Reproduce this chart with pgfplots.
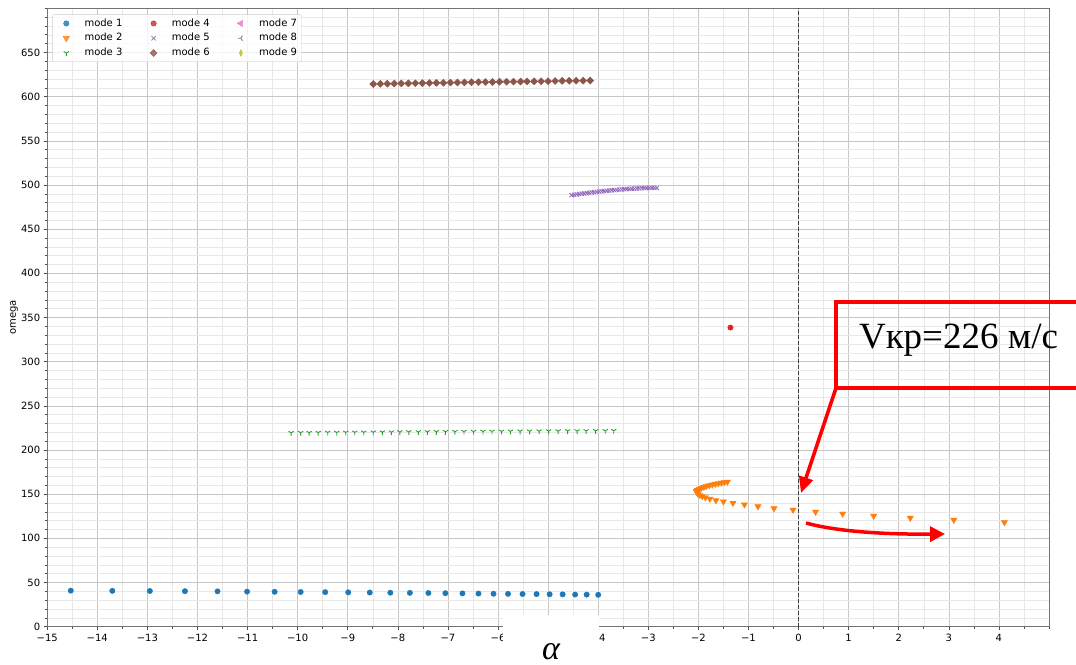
\documentclass[border=0pt]{standalone}
\usepackage{fontspec}
\setmainfont{DejaVu Sans}
\newfontfamily\tnr{Liberation Serif}
\usepackage{pgfplots}
\pgfplotsset{compat=1.18}
\usetikzlibrary{arrows.meta}

\definecolor{c0}{HTML}{1F77B4}
\definecolor{c1}{HTML}{FF7F0E}
\definecolor{c2}{HTML}{2CA02C}
\definecolor{c3}{HTML}{D62728}
\definecolor{c4}{HTML}{9467BD}
\definecolor{c5}{HTML}{8C564B}
\definecolor{c6}{HTML}{E377C2}
\definecolor{c7}{HTML}{7F7F7F}
\definecolor{c8}{HTML}{BCBD22}

\begin{document}
\begin{tikzpicture}
\useasboundingbox (0pt,0pt) rectangle (1076pt,664pt);
\begin{axis}[
  scale only axis,
  width=1001.8pt, height=618.4pt,
  at={(47.2pt,37.3pt)}, anchor=south west,
  xmin=-15, xmax=5, ymin=0, ymax=700,
  xtick={-15,...,4},
  xticklabels={−15,−14,−13,−12,−11,−10,−9,−8,−7,−6,−5,−4,−3,−2,−1,0,1,2,3,4},
  ytick={0,50,...,650},
  minor xtick={-15,-14.5,...,5},
  minor ytick={0,10,...,700},
  grid=both,
  major grid style={black!22, line width=0.6pt},
  minor grid style={black!9, line width=0.5pt},
  tick pos=left,
  tick align=outside,
  major tick length=3.5pt, minor tick length=2pt,
  tick style={black!70, line width=0.6pt},
  axis line style={black!55, line width=0.8pt},
  ticklabel style={font=\fontsize{10}{12}\selectfont},
  /pgf/number format/assume math mode=true,
  ylabel={omega},
  ylabel style={at={(axis description cs:-0.033,0.5)}, anchor=center, font=\fontsize{10}{12}\selectfont},
  legend columns=3,
  legend cell align=left,
  legend image code/.code={\path (-10pt,0pt) (10pt,0pt); \draw[#1, only marks] plot coordinates {(0pt,0pt)};},
  legend style={
    at={(axis description cs:0.005,0.99)}, anchor=north west,
    draw=black!20, rounded corners=2pt, fill=white, fill opacity=0.8, text opacity=1,
    inner xsep=3.7pt, inner ysep=3pt,
    font=\fontsize{10}{12}\selectfont,
    nodes={inner sep=1pt, text height=7.5pt, text depth=2pt},
    row sep=3.3pt,
    /tikz/every odd column/.append style={column sep=7pt},
    /tikz/every even column/.append style={column sep=20pt},
  },
]

% zero line
\addplot[black!75, line width=1pt, dash pattern=on 4pt off 2pt, forget plot] coordinates {(0,0) (0,700)};

% mode 1
\addplot[only marks, mark=*, mark size=2.7pt, color=c0, forget plot] coordinates {
(-14.53,40.8) (-13.70,40.6) (-12.95,40.4) (-12.25,40.2) (-11.60,40.0) (-11.01,39.7)
(-10.46,39.5) (-9.94,39.3) (-9.45,39.1) (-8.99,38.9) (-8.56,38.7) (-8.15,38.5)
(-7.76,38.3) (-7.39,38.1) (-7.05,37.9) (-6.71,37.7) (-6.39,37.5) (-6.09,37.3)
(-5.80,37.2) (-5.51,37.0) (-5.23,36.9) (-4.97,36.7) (-4.71,36.6) (-4.46,36.4)
(-4.23,36.3) (-4.00,36.1)};

% mode 2
\addplot[only marks, mark=triangle*, mark size=3.6pt, mark options={rotate=180}, color=c1, forget plot] coordinates {
(-1.42,164.0) (-1.48,163.5) (-1.54,162.9) (-1.60,162.3) (-1.66,161.6) (-1.72,160.8)
(-1.78,160.0) (-1.84,159.1) (-1.89,158.1) (-1.94,157.1) (-1.98,156.0) (-2.02,154.8)
(-2.04,153.4) (-2.03,152.0) (-2.01,150.5) (-1.97,149.0) (-1.92,147.6) (-1.86,146.2)
(-1.77,144.7) (-1.65,143.0) (-1.50,141.6) (-1.31,140.0) (-1.08,138.2) (-0.81,136.1)
(-0.49,133.9) (-0.11,132.2) (0.34,129.9) (0.88,127.8) (1.50,125.4) (2.23,123.1)
(3.10,120.8) (4.11,118.1)};

% mode 3
\addplot[only marks, mark=Mercedes star flipped, mark size=3pt, mark options={line width=0.9pt}, color=c2, forget plot] coordinates {
(-10.13,219.5) (-9.94,219.6) (-9.77,219.6) (-9.59,219.7) (-9.40,219.8) (-9.22,219.8)
(-9.04,219.9) (-8.86,220.0) (-8.68,220.0) (-8.49,220.1) (-8.31,220.2) (-8.13,220.2)
(-7.96,220.3) (-7.78,220.4) (-7.59,220.4) (-7.41,220.5) (-7.23,220.6) (-7.05,220.6)
(-6.86,220.7) (-6.68,220.8) (-6.49,220.8) (-6.30,220.9) (-6.12,221.0) (-5.93,221.0)
(-5.75,221.1) (-5.56,221.2) (-5.37,221.2) (-5.18,221.3) (-4.99,221.4) (-4.80,221.4)
(-4.61,221.5) (-4.42,221.5) (-4.24,221.6) (-4.05,221.7) (-3.86,221.7) (-3.69,221.8)};

% mode 4
\addplot[only marks, mark=*, mark size=2.7pt, color=c3, forget plot] coordinates {(-1.36,338.6)};

% mode 5
\addplot[only marks, mark=x, mark size=3pt, mark options={line width=0.8pt}, color=c4, forget plot] coordinates {
(-4.53,488.5) (-4.48,488.9) (-4.43,489.3) (-4.38,489.7) (-4.33,490.1) (-4.28,490.5)
(-4.23,490.8) (-4.18,491.2) (-4.13,491.5) (-4.08,491.9) (-4.03,492.2) (-3.98,492.5)
(-3.93,492.8) (-3.88,493.1) (-3.83,493.4) (-3.78,493.7) (-3.73,494.0) (-3.68,494.2)
(-3.63,494.5) (-3.58,494.7) (-3.53,495.0) (-3.48,495.2) (-3.43,495.4) (-3.38,495.6)
(-3.33,495.8) (-3.28,495.9) (-3.23,496.1) (-3.18,496.2) (-3.13,496.4) (-3.08,496.5)
(-3.03,496.6) (-2.98,496.7) (-2.93,496.7) (-2.88,496.8) (-2.83,496.8)};

% mode 6
\addplot[only marks, mark=square*, mark size=2.5pt, mark options={rotate=45}, color=c5, forget plot] coordinates {
(-8.49,614.3) (-8.35,614.5) (-8.21,614.6) (-8.07,614.8) (-7.93,614.9) (-7.79,615.0)
(-7.65,615.2) (-7.51,615.3) (-7.37,615.5) (-7.23,615.6) (-7.09,615.7) (-6.95,615.9)
(-6.81,616.0) (-6.67,616.1) (-6.53,616.3) (-6.39,616.4) (-6.25,616.5) (-6.11,616.6)
(-5.97,616.8) (-5.83,616.9) (-5.69,617.0) (-5.55,617.1) (-5.42,617.2) (-5.28,617.3)
(-5.14,617.4) (-5.00,617.5) (-4.86,617.7) (-4.72,617.8) (-4.58,617.9) (-4.44,618.0)
(-4.30,618.1) (-4.16,618.2)};

% legend, filled column by column
\addlegendimage{mark=*, mark size=2.7pt, color=c0}
\addlegendentry{mode 1}
\addlegendimage{mark=*, mark size=2.7pt, color=c3}
\addlegendentry{mode 4}
\addlegendimage{mark=triangle*, mark size=3.6pt, mark options={rotate=90}, color=c6}
\addlegendentry{mode 7}
\addlegendimage{mark=triangle*, mark size=3.6pt, mark options={rotate=180}, color=c1}
\addlegendentry{mode 2}
\addlegendimage{mark=x, mark size=3pt, mark options={line width=0.8pt}, color=c4}
\addlegendentry{mode 5}
\addlegendimage{mark=Mercedes star, mark size=3pt, mark options={rotate=90, line width=0.9pt}, color=c7}
\addlegendentry{mode 8}
\addlegendimage{mark=Mercedes star flipped, mark size=3pt, mark options={line width=0.9pt}, color=c2}
\addlegendentry{mode 3}
\addlegendimage{mark=square*, mark size=2.5pt, mark options={rotate=45}, color=c5}
\addlegendentry{mode 6}
\addlegendimage{mark=diamond*, mark size=3.4pt, mark options={xscale=0.6}, color=c8}
\addlegendentry{mode 9}
\end{axis}

% caption strip under the axis
\fill[white] (503pt,0pt) rectangle (599pt,49pt);
\node[anchor=base, inner sep=0pt] at (551pt,5pt) {\tnr\itshape\fontsize{34}{34}\selectfont α};

% critical speed callout
\draw[red, line width=3.5pt] (836pt,276pt) rectangle (1100pt,362pt);
\node[anchor=base, inner sep=0pt] at (958.5pt,315pt) {\tnr\fontsize{37}{37}\selectfont Vкр=226 м/с};
\draw[red, line width=3.5pt, -{Triangle[length=16pt,width=14pt]}] (836pt,276pt) -- (801pt,171pt);
\draw[red, line width=3.5pt, -{Triangle[length=15pt,width=15pt]}] (806pt,141pt) .. controls (835pt,133pt) and (880pt,129.5pt) .. (945pt,130pt);
\end{tikzpicture}
\end{document}
